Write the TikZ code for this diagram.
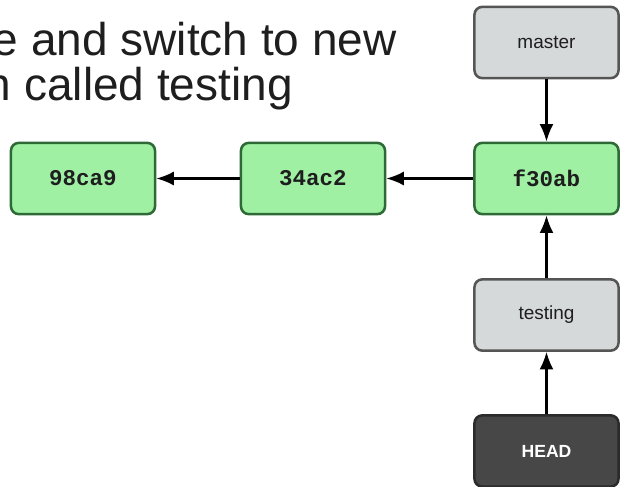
\documentclass[tikz,border=0pt]{standalone}
\usepackage{fontspec}
\setmainfont{Liberation Sans}
\setmonofont{Liberation Mono}
\usetikzlibrary{arrows.meta}
\definecolor{commitfill}{HTML}{A0F0A4}
\definecolor{commitdraw}{HTML}{2E6A36}
\definecolor{reffill}{HTML}{D6D9D9}
\definecolor{refdraw}{HTML}{555555}
\definecolor{headfill}{HTML}{474747}
\definecolor{headdraw}{HTML}{2B2B2B}
\definecolor{inktext}{HTML}{1E1E1E}
\tikzset{
  commit/.style={draw=commitdraw,fill=commitfill,line width=1.8pt,rounded corners=5.5pt,minimum width=3.6cm,minimum height=1.78cm,text=inktext,font=\ttfamily\bfseries\fontsize{16}{18}\selectfont},
  branch/.style={commit,draw=refdraw,fill=reffill,font=\fontsize{13.5}{16}\selectfont},
  headref/.style={commit,draw=headdraw,fill=headfill,text=white,font=\bfseries\fontsize{12.5}{15}\selectfont},
  ptr/.style={-{Latex[length=12.5pt,width=10pt]},line width=1.6pt}
}

\begin{document}
\begin{tikzpicture}[x=0.025cm,y=-0.025cm]
\useasboundingbox (0,0) rectangle (621,487);
\node[anchor=base east,inner sep=0,text=inktext,font=\fontsize{32.7}{37}\selectfont] (title1) at (397,55) {e and switch to new};
\node[anchor=base east,inner sep=0,text=inktext,font=\fontsize{32.7}{37}\selectfont] (title2) at (293,100) {n called testing};
\node[commit] (c98ca9) at (83,178.5) {98ca9};
\node[commit] (c34ac2) at (313,178.5) {34ac2};
\node[commit] (cf30ab) at (546.5,178.5) {f30ab};
\node[branch] (master) at (546.5,42.5) {master};
\node[branch] (testing) at (546.5,315) {testing};
\node[headref] (head) at (546.5,451) {HEAD};

\draw[ptr] (c34ac2) -- (c98ca9); \draw[ptr] (cf30ab) -- (c34ac2); \draw[ptr] (master) -- (cf30ab); \draw[ptr] (testing) -- (cf30ab); \draw[ptr] (head) -- (testing);
\end{tikzpicture}
\end{document}
